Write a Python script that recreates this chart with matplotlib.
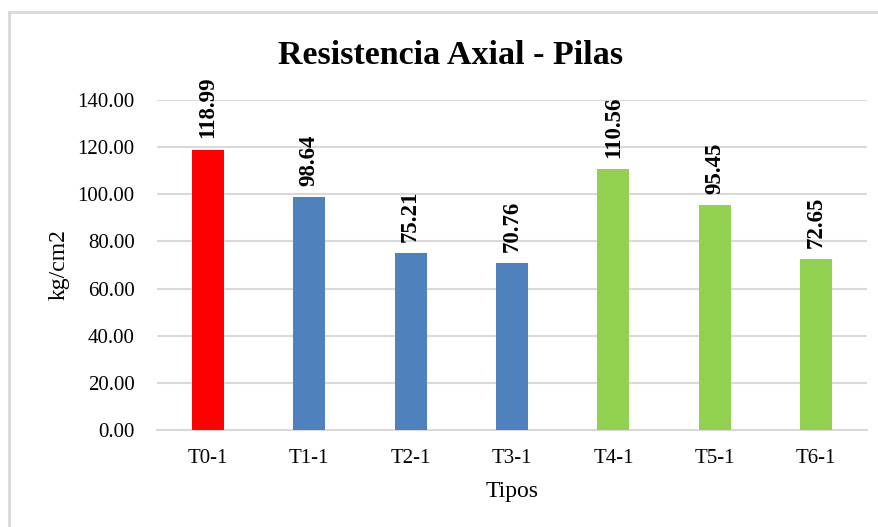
import matplotlib.pyplot as plt
from matplotlib.lines import Line2D

# Data
tipos = ['T0-1', 'T1-1', 'T2-1', 'T3-1', 'T4-1', 'T5-1', 'T6-1']
resistencia = [118.99, 98.64, 75.21, 70.76, 110.56, 95.45, 72.65]
colores = ['#FF0000', '#4F81BD', '#4F81BD', '#4F81BD', '#92D050', '#92D050', '#92D050']

plt.rcParams['font.family'] = ['Liberation Serif', 'DejaVu Serif']

fig = plt.figure(figsize=(8.79, 5.27), dpi=100)
ax = fig.add_axes([157 / 879, 1 - 430 / 527, 710 / 879, 330 / 527])

x = range(len(tipos))
bars = ax.bar(x, resistencia, width=0.315, color=colores, zorder=3)

for b, v in zip(bars, resistencia):
    ax.annotate(f'{v:.2f}', (b.get_x() + b.get_width() / 2, v),
                xytext=(0, 8), textcoords='offset points',
                rotation=90, ha='center', va='bottom',
                fontsize=16.5, fontweight='bold', annotation_clip=False)

ax.set_ylim(0, 140)
ax.set_xlim(-0.5, len(tipos) - 0.5)
ax.set_yticks(range(0, 141, 20))
ax.set_yticklabels([f'{t:.2f}' for t in range(0, 141, 20)], fontsize=15)
ax.set_xticks(list(x))
ax.set_xticklabels(tipos, fontsize=15)
ax.tick_params(length=0)
ax.tick_params(axis='x', pad=14)
ax.tick_params(axis='y', pad=16)

ax.grid(axis='y', color='#D9D9D9', linewidth=1.5, zorder=0)
for s in ['top', 'right', 'left']:
    ax.spines[s].set_visible(False)
ax.spines['bottom'].set_color('#D9D9D9')
ax.spines['bottom'].set_linewidth(1.5)

ax.set_xlabel('Tipos', fontsize=17, labelpad=9)
ax.set_ylabel('kg/cm2', fontsize=17, labelpad=6)

fig.text(451 / 879, 1 - 55 / 527, 'Resistencia Axial - Pilas', ha='center', va='center',
         fontsize=24.5, fontweight='bold')

# chart border (top and left only visible)
bx, by = 9 / 879, 1 - 12 / 527
fig.add_artist(Line2D([bx, 1.0], [by, by], transform=fig.transFigure,
                      color='#D9D9D9', linewidth=2))
fig.add_artist(Line2D([bx, bx], [0.0, by], transform=fig.transFigure,
                      color='#D9D9D9', linewidth=2))

plt.savefig('out.png', dpi=100)
